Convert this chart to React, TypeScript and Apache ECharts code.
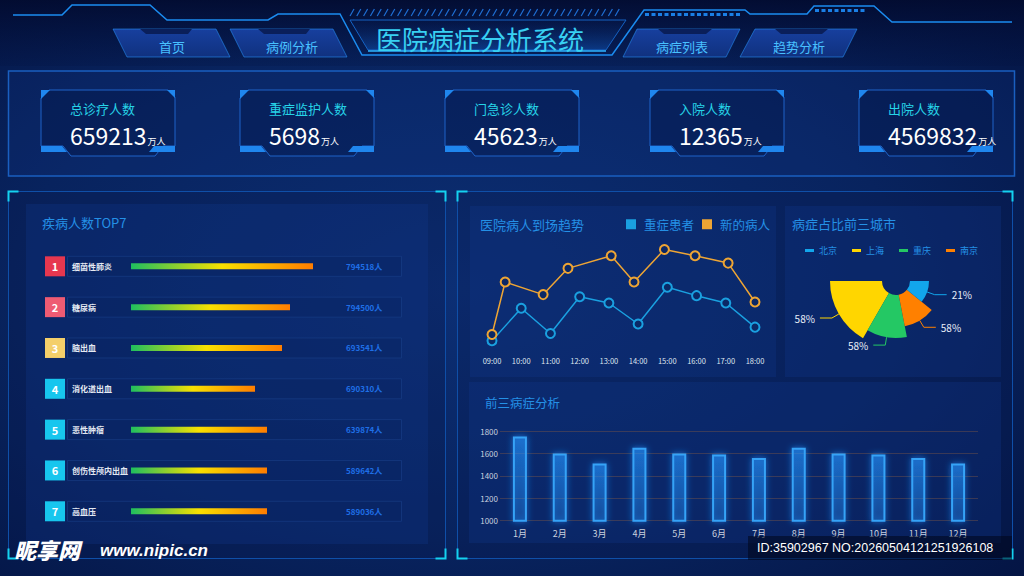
import React, { useEffect, useRef } from "react";
import * as echarts from "echarts";

const FONT = "'Noto Sans CJK SC', 'Noto Sans', sans-serif";

const pageTitle = "医院病症分析系统";
const navLeft = ["首页", "病例分析"];
const navRight = ["病症列表", "趋势分析"];

const kpiTitles = ["总诊疗人数", "重症监护人数", "门急诊人数", "入院人数", "出院人数"];
const kpiValues = ["659213", "5698", "45623", "12365", "4569832"];
const kpiUnit = "万人";

const top7Title = "疾病人数TOP7";
const diseaseNames = ["细菌性肺炎", "糖尿病", "脑出血", "消化道出血", "恶性肿瘤", "创伤性颅内出血", "高血压"];
const diseaseCounts = [794518, 794500, 693541, 690310, 639874, 589642, 589036];
const diseaseProgress = [91, 79.5, 75.5, 62, 68, 68, 68];

const trendTitle = "医院病人到场趋势";
const hourTicks = [9, 10, 11, 12, 13, 14, 15, 16, 17, 18];
const hourLabels = ["09:00", "10:00", "11:00", "12:00", "13:00", "14:00", "15:00", "16:00", "17:00", "18:00"];
const severeName = "重症患者";
const severeHours = [9, 10, 11, 12, 13, 14, 15, 16, 17, 18];
const severeValues = [4, 35, 11, 46, 40, 20, 55, 47, 40, 17];
const newName = "新的病人";
const newHours = [9, 9.45, 10.75, 11.6, 13.08, 13.86, 14.9, 15.95, 17.08, 18];
const newValues = [10, 60, 48, 73, 85, 60, 91, 85, 78, 41];

const cityTitle = "病症占比前三城市";
const cityNames = ["北京", "上海", "重庆", "南京"];
const cityPercent = [21, 58, 58, 58];
const citySweep = [39, 60, 41, 40];
const cityRadius = [33, 66, 57, 46];
const cityDrawOrder = [1, 2, 3, 0];

const monthTitle = "前三病症分析";
const monthLabels = ["1月", "2月", "3月", "4月", "5月", "6月", "7月", "8月", "9月", "10月", "11月", "12月"];
const monthValues = [1750, 1600, 1510, 1650, 1600, 1590, 1560, 1650, 1600, 1590, 1560, 1510];

const watermarkLogo = "昵享网";
const watermarkUrl = "www.nipic.cn";
const watermarkId = "ID:35902967 NO:20260504121251926108";

const cityColors = ["#12a6ec", "#ffd600", "#24c864", "#ff8000"];
const rankColors = ["#e6374f", "#ee5b73", "#f4cf6a", "#17c6ee"];
const TITLE_BLUE = "#2490e6";

function lin(c0: string, c1: string, horizontal = false) {
  return {
    type: "linear",
    x: 0,
    y: 0,
    x2: horizontal ? 1 : 0,
    y2: horizontal ? 0 : 1,
    colorStops: [
      { offset: 0, color: c0 },
      { offset: 1, color: c1 },
    ],
  };
}

function txt(text: string, x: number, y: number, size: number, fill: string, extra: any = {}) {
  return {
    type: "text",
    z: 5,
    style: {
      text,
      x,
      y,
      fill,
      fontSize: size,
      fontFamily: FONT,
      verticalAlign: "middle",
      align: "left",
      ...extra,
    },
  };
}

function buildGraphics() {
  const G: any[] = [];
  G.push({
    type: "rect",
    z: -20,
    shape: { x: 0, y: 0, width: 1024, height: 576 },
    style: {
      fill: {
        type: "radial",
        x: 0.45,
        y: 0.5,
        r: 0.8,
        colorStops: [
          { offset: 0, color: "#0c2f75" },
          { offset: 0.55, color: "#08235e" },
          { offset: 1, color: "#03123f" },
        ],
      },
    },
  });
  G.push({
    type: "rect",
    z: -19,
    shape: { x: 0, y: 0, width: 1024, height: 66 },
    style: { fill: lin("rgba(2,10,45,0.85)", "rgba(3,16,60,0.2)") },
  });

  const hdr = "#1b8cf0";
  G.push({
    type: "polyline",
    z: -5,
    shape: { points: [[13, 15], [62, 15], [72, 5], [150, 5], [167, 20], [268, 20], [278, 14], [340, 14], [362, 55], [612, 55], [644, 10], [745, 10], [750, 14], [807, 14], [814, 6], [874, 6], [892, 22], [1012, 22]] },
    style: { stroke: hdr, lineWidth: 1.5, fill: null },
  });
  G.push({
    type: "polygon",
    z: -6,
    shape: { points: [[350, 20], [368, 50], [606, 50], [626, 20]] },
    style: { fill: lin("rgba(8,30,90,0.15)", "rgba(20,100,210,0.4)"), stroke: "#1462c4", lineWidth: 1 },
  });
  G.push({ type: "line", z: -5, shape: { x1: 368, y1: 51, x2: 606, y2: 51 }, style: { stroke: "#2fb4ff", lineWidth: 1.5 } });
  for (let x = 350; x < 620; x += 6.8) {
    G.push({ type: "line", z: -5, shape: { x1: x, y1: 16, x2: x + 4, y2: 9 }, style: { stroke: "#1f6fd4", lineWidth: 1.2 } });
  }
  for (let x = 645; x < 742; x += 6.5) {
    G.push({ type: "rect", z: -5, shape: { x, y: 13, width: 4, height: 3 }, style: { fill: "#1a7fe6" } });
  }
  for (let x = 815; x < 866; x += 6.5) {
    G.push({ type: "rect", z: -5, shape: { x, y: 9, width: 4, height: 3 }, style: { fill: "#1a7fe6" } });
  }
  G.push(txt(pageTitle, 480, 38, 26, "#38d0f2", { align: "center" }));

  const navs = [
    { pts: [[113, 29], [216, 29], [230, 57], [127, 57]], notch: [[140, 29], [192, 29], [188, 34], [146, 34]], text: navLeft[0], cx: 172 },
    { pts: [[230, 29], [333, 29], [347, 57], [244, 57]], notch: [[258, 29], [310, 29], [306, 34], [264, 34]], text: navLeft[1], cx: 292 },
    { pts: [[637, 29], [740, 29], [726, 57], [623, 57]], notch: [[658, 29], [712, 29], [706, 34], [664, 34]], text: navRight[0], cx: 682 },
    { pts: [[755, 29], [857, 29], [843, 57], [740, 57]], notch: [[775, 29], [828, 29], [822, 34], [781, 34]], text: navRight[1], cx: 799 },
  ];
  navs.forEach((n) => {
    G.push({
      type: "polygon",
      z: -4,
      shape: { points: n.pts },
      style: { fill: lin("#173f9e", "#10317f"), stroke: "rgba(40,150,255,0.55)", lineWidth: 1 },
    });
    G.push({ type: "polygon", z: -3, shape: { points: n.notch }, style: { fill: "#0a1f5a" } });
    G.push(txt(n.text, n.cx, 46, 13, "#48c0ff", { align: "center" }));
  });

  G.push({
    type: "rect",
    z: -8,
    shape: { x: 8.5, y: 71, width: 1006, height: 105 },
    style: { fill: "rgba(14,50,130,0.25)", stroke: "#1a5fc0", lineWidth: 1.5 },
  });
  const kpiX = [41, 240, 445, 650, 859];
  const by = 90;
  kpiX.forEach((bx, i) => {
    G.push({
      type: "polygon",
      z: -3,
      shape: {
        points: [[bx + 8, by], [bx + 127, by], [bx + 134, by + 7], [bx + 134, by + 56], [bx + 122, by + 56], [bx + 114, by + 66], [bx + 30, by + 66], [bx + 22, by + 56], [bx, by + 56], [bx, by + 8]],
      },
      style: { fill: "rgba(4,20,70,0.35)", stroke: "#1f63c8", lineWidth: 1 },
    });
    G.push({ type: "polygon", z: -2, shape: { points: [[bx, by], [bx + 9, by], [bx, by + 9]] }, style: { fill: "#1f86ee" } });
    G.push({ type: "polygon", z: -2, shape: { points: [[bx + 126, by], [bx + 134, by], [bx + 134, by + 8]] }, style: { fill: "#1f86ee" } });
    G.push({ type: "polygon", z: -2, shape: { points: [[bx, by + 56], [bx + 21, by + 56], [bx + 26, by + 62], [bx, by + 62]] }, style: { fill: "#1f86ee" } });
    G.push({ type: "polygon", z: -2, shape: { points: [[bx + 113, by + 56], [bx + 134, by + 56], [bx + 134, by + 62], [bx + 108, by + 62]] }, style: { fill: "#1f86ee" } });
    G.push(txt(kpiTitles[i], bx + 29, 108, 13, "#26d4e8"));
    G.push({
      type: "text",
      z: 5,
      style: {
        text: `{v|${kpiValues[i]}}{u|${kpiUnit}}`,
        x: bx + 29,
        y: 133,
        verticalAlign: "middle",
        align: "left",
        fill: "#fff",
        fontFamily: FONT,
        rich: {
          v: { fontSize: 23, fill: "#ffffff", fontFamily: FONT, verticalAlign: "bottom", lineHeight: 26 },
          u: { fontSize: 9, fill: "#ffffff", fontFamily: FONT, verticalAlign: "bottom", lineHeight: 26, padding: [0, 0, 0, 1] },
        },
      },
    });
  });

  const frame = (x: number, y: number, w: number, h: number) => {
    G.push({ type: "rect", z: -8, shape: { x, y, width: w, height: h }, style: { fill: "rgba(6,24,75,0.25)", stroke: "#0f4fa8", lineWidth: 1 } });
    const c = "#14d2f0";
    const L = 10;
    const r = x + w;
    const b = y + h;
    [
      [[x, y + L], [x, y], [x + L, y]],
      [[r - L, y], [r, y], [r, y + L]],
      [[x, b - L], [x, b], [x + L, b]],
      [[r - L, b], [r, b], [r, b - L]],
    ].forEach((pts) => G.push({ type: "polyline", z: -2, shape: { points: pts }, style: { stroke: c, lineWidth: 2, fill: null } }));
  };
  frame(8.5, 191.5, 437, 367);
  frame(457.5, 191.5, 555, 367);

  const panel = (x: number, y: number, w: number, h: number) =>
    G.push({ type: "rect", z: -7, shape: { x, y, width: w, height: h }, style: { fill: "rgba(18,58,145,0.28)" } });
  panel(26, 204, 402, 340);
  panel(470, 206, 306, 171);
  panel(785, 206, 216, 171);
  panel(469, 382, 532, 161);

  G.push(txt(top7Title, 42, 222, 13, TITLE_BLUE));
  G.push(txt(trendTitle, 480, 224, 13, TITLE_BLUE));
  G.push(txt(cityTitle, 792, 223, 13, TITLE_BLUE));
  G.push(txt(monthTitle, 485, 402, 12.5, TITLE_BLUE));

  G.push({ type: "rect", z: 90, shape: { x: 748, y: 536, width: 264, height: 24 }, style: { fill: "rgba(0,6,25,0.55)" } });
  G.push({ ...txt(watermarkId, 757, 548, 12.5, "#ffffff", { fontFamily: "'Liberation Sans', sans-serif" }), z: 100 });
  G.push({ ...txt(watermarkLogo, 14, 549, 22, "#ffffff", { fontWeight: 900, fontStyle: "italic" }), z: 100 });
  G.push({ ...txt(watermarkUrl, 100, 550, 17, "#ffffff", { fontWeight: "bold", fontStyle: "italic", fontFamily: "'Liberation Sans', sans-serif" }), z: 100 });
  return G;
}

function buildOption(): any {
  const rankRich: any = { n: { color: "#e4e9f2", fontSize: 8, fontWeight: "bold", padding: [0, 0, 0, 7], fontFamily: FONT } };
  rankColors.forEach((c, i) => {
    rankRich["r" + i] = {
      backgroundColor: c,
      color: "#ffffff",
      width: 20,
      height: 20,
      lineHeight: 20,
      align: "center",
      fontSize: 11,
      fontWeight: "bold",
      fontFamily: FONT,
    };
  });

  let start = 180;
  const pieSeries = cityDrawOrder.map((ci) => {
    const s = {
      type: "pie",
      center: [896, 281],
      radius: [14, cityRadius[ci]],
      startAngle: start,
      clockwise: false,
      avoidLabelOverlap: false,
      silent: true,
      z: 3,
      label: { show: false },
      labelLine: { show: false },
      data: [
        {
          name: cityNames[ci],
          value: citySweep[ci],
          itemStyle: { color: cityColors[ci] },
          label: { show: true, position: "outside", formatter: `${cityPercent[ci]}%`, color: "#e8eef8", fontSize: 10, fontFamily: FONT },
          labelLine: { show: true, length: 8, length2: 12, lineStyle: { width: 1 } },
        },
        {
          name: "",
          value: 360 - citySweep[ci],
          itemStyle: { color: "rgba(0,0,0,0)" },
          label: { show: false },
          labelLine: { show: false },
        },
      ],
    };
    start += citySweep[ci];
    return s;
  });

  const axisText = { color: "#c9d1df", fontFamily: FONT };

  return {
    animation: false,
    textStyle: { fontFamily: FONT },
    graphic: { elements: buildGraphics() },
    grid: [
      { left: 67, width: 335, top: 245.9, height: 285.8 },
      { left: 131, width: 200, top: 245.9, height: 285.8 },
      { left: 492, right: 269, top: 240, bottom: 231 },
      { left: 500, width: 478, top: 431, height: 89.7 },
    ],
    legend: [
      {
        data: [
          { name: severeName, itemStyle: { color: "#1aa0e0", borderWidth: 0 } },
          { name: newName, itemStyle: { color: "#eea534", borderWidth: 0 } },
        ],
        left: 621,
        top: 213,
        icon: "rect",
        itemWidth: 10,
        itemHeight: 10,
        itemGap: 8,
        selectedMode: false,
        textStyle: { color: TITLE_BLUE, fontSize: 12.5, padding: [0, 0, 0, 3], fontFamily: FONT },
      },
      {
        data: cityNames,
        left: 800,
        top: 241,
        icon: "rect",
        itemWidth: 9,
        itemHeight: 3,
        itemGap: 15,
        selectedMode: false,
        textStyle: { color: TITLE_BLUE, fontSize: 9, fontFamily: FONT },
      },
    ],
    xAxis: [
      { gridIndex: 0, type: "value", min: 0, max: 1, show: false },
      { gridIndex: 1, type: "value", min: 0, max: 100, show: false },
      {
        gridIndex: 2,
        type: "value",
        min: 9,
        max: 18,
        interval: 1,
        axisLine: { show: false },
        axisTick: { show: false },
        splitLine: { show: false },
        axisLabel: {
          ...axisText,
          color: "#dfe5ee",
          fontSize: 7.5,
          margin: 12,
          formatter: (v: number) => hourLabels[hourTicks.indexOf(Math.round(v))] ?? "",
        },
      },
      {
        gridIndex: 3,
        type: "category",
        data: monthLabels,
        axisLine: { show: false },
        axisTick: { show: false },
        axisLabel: { ...axisText, fontSize: 9, margin: 8 },
      },
    ],
    yAxis: [
      { gridIndex: 0, type: "category", data: diseaseNames, inverse: true, show: false },
      {
        gridIndex: 1,
        type: "category",
        data: diseaseNames,
        inverse: true,
        z: 5,
        axisLine: { show: false },
        axisTick: { show: false },
        axisLabel: {
          margin: 86,
          align: "left",
          formatter: (v: string, i: number) => `{r${Math.min(i, 3)}|${i + 1}}{n|${v}}`,
          rich: rankRich,
        },
      },
      {
        gridIndex: 1,
        type: "category",
        position: "right",
        data: diseaseNames,
        inverse: true,
        z: 5,
        axisLine: { show: false },
        axisTick: { show: false },
        axisLabel: {
          margin: 15,
          align: "left",
          color: "#1f6fe6",
          fontSize: 8,
          fontWeight: "bold",
          fontFamily: FONT,
          formatter: (_v: string, i: number) => `${diseaseCounts[i]}人`,
        },
      },
      { gridIndex: 2, type: "value", min: 0, max: 100, show: false },
      {
        gridIndex: 3,
        type: "value",
        min: 1000,
        max: 1800,
        interval: 200,
        axisLine: { show: false },
        axisTick: { show: false },
        splitLine: { lineStyle: { color: "rgba(120,85,70,0.45)", width: 1 } },
        axisLabel: { ...axisText, fontSize: 8, margin: 2, formatter: (v: number) => String(v) },
      },
    ],
    series: [
      {
        type: "bar",
        xAxisIndex: 0,
        yAxisIndex: 0,
        silent: true,
        z: 1,
        barWidth: 21,
        data: diseaseNames.map(() => 1),
        itemStyle: { color: "rgba(10,35,95,0.35)", borderColor: "rgba(28,66,140,0.55)", borderWidth: 1 },
      },
      {
        type: "bar",
        xAxisIndex: 1,
        yAxisIndex: 1,
        silent: true,
        z: 3,
        barWidth: 6,
        data: diseaseProgress,
        itemStyle: {
          color: {
            type: "linear",
            x: 0,
            y: 0,
            x2: 1,
            y2: 0,
            colorStops: [
              { offset: 0, color: "#1fbf5f" },
              { offset: 0.5, color: "#f8e000" },
              { offset: 1, color: "#ff7d00" },
            ],
          },
        },
      },
      {
        type: "line",
        name: severeName,
        xAxisIndex: 2,
        yAxisIndex: 3,
        silent: true,
        z: 4,
        data: severeHours.map((h, i) => [h, severeValues[i]]),
        symbol: "circle",
        symbolSize: 9,
        lineStyle: { color: "#1aa0e0", width: 1.5 },
        itemStyle: { color: "#0b2866", borderColor: "#1aa0e0", borderWidth: 2 },
      },
      {
        type: "line",
        name: newName,
        xAxisIndex: 2,
        yAxisIndex: 3,
        silent: true,
        z: 5,
        data: newHours.map((h, i) => [h, newValues[i]]),
        symbol: "circle",
        symbolSize: 9,
        lineStyle: { color: "#eea534", width: 1.5 },
        itemStyle: { color: "#0b2866", borderColor: "#eea534", borderWidth: 2 },
      },
      ...pieSeries,
      {
        type: "bar",
        xAxisIndex: 3,
        yAxisIndex: 4,
        silent: true,
        z: 3,
        barWidth: 14,
        data: monthValues,
        itemStyle: {
          color: lin("rgba(40,150,255,0.40)", "rgba(40,150,255,0.15)"),
          borderColor: "#36a3f7",
          borderWidth: 2,
          shadowColor: "rgba(30,144,255,0.9)",
          shadowBlur: 6,
        },
      },
    ],
  };
}

export default function App() {
  const ref = useRef<HTMLDivElement>(null);
  useEffect(() => {
    const chart = echarts.init(ref.current!, undefined, { renderer: "svg", width: 1024, height: 576 });
    chart.setOption(buildOption());
    return () => chart.dispose();
  }, []);
  return <div ref={ref} style={{ position: "absolute", left: 0, top: 0, width: 1024, height: 576 }} />;
}
